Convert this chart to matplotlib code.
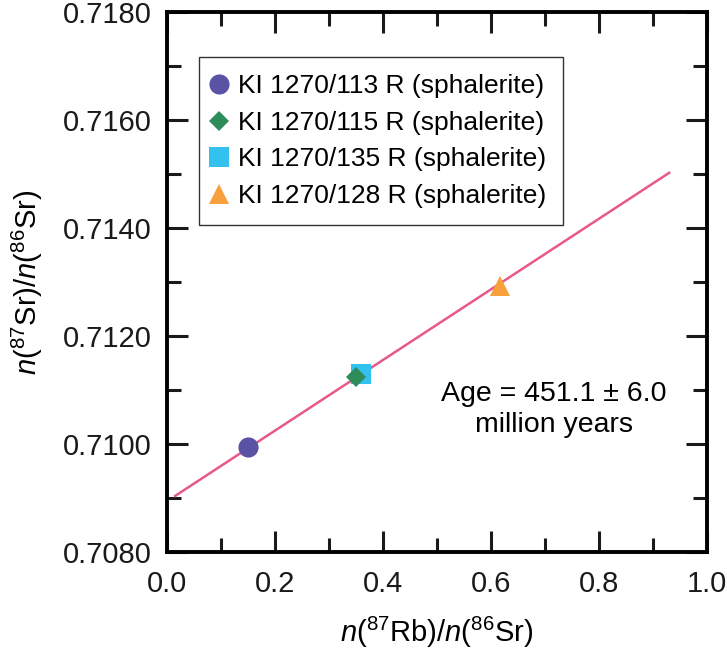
import numpy as np
import matplotlib
matplotlib.use('Agg')
import matplotlib.pyplot as plt
from matplotlib.ticker import MultipleLocator, FormatStrFormatter

plt.rcParams['font.family'] = ['Liberation Sans', 'DejaVu Sans']
plt.rcParams['mathtext.fontset'] = 'custom'
plt.rcParams['mathtext.rm'] = 'Liberation Sans'
plt.rcParams['mathtext.it'] = 'Liberation Sans:italic'

# samples (Rb/Sr vs Sr/Sr)
labels = ['KI 1270/113 R (sphalerite)', 'KI 1270/115 R (sphalerite)',
          'KI 1270/135 R (sphalerite)', 'KI 1270/128 R (sphalerite)']
rb_sr = [0.150, 0.350, 0.359, 0.617]
sr_sr = [0.70994, 0.71124, 0.71130, 0.71293]
markers = ['o', 'D', 's', '^']
colors = ['#5a52a5', '#2e8b5a', '#33c1ef', '#f7a03c']
msizes = [14.5, 10.5, 14, 14]
zord = [3, 5, 4, 3]  # diamond sits on top of the square

# isochron fit
x_fit = [0.015, 0.93]
slope = 0.00654
intercept = 0.70894

fig = plt.figure(figsize=(7.27, 6.55), dpi=100)
ax = fig.add_axes([167/727, 1 - 552/655, 540/727, 540/655])

xf = np.array(x_fit)
ax.plot(xf, intercept + slope * xf, color='#e8588a', lw=1.8, zorder=2)

for x, y, m, c, s, z, lab in zip(rb_sr, sr_sr, markers, colors, msizes, zord, labels):
    ax.plot([x], [y], marker=m, color=c, markersize=s, linestyle='none',
            markeredgewidth=0, label=lab, zorder=z)

ax.set_xlim(0, 1.0)
ax.set_ylim(0.708, 0.718)
ax.xaxis.set_major_locator(MultipleLocator(0.2))
ax.xaxis.set_minor_locator(MultipleLocator(0.1))
ax.yaxis.set_major_locator(MultipleLocator(0.002))
ax.yaxis.set_minor_locator(MultipleLocator(0.001))
ax.xaxis.set_major_formatter(FormatStrFormatter('%.1f'))
ax.yaxis.set_major_formatter(FormatStrFormatter('%.4f'))
ax.tick_params(which='both', direction='in', top=True, right=True,
               labelsize=21, width=2.2, colors='#1a1a1a')
ax.tick_params(axis='x', which='both', pad=13)
ax.tick_params(axis='y', which='both', pad=11)
ax.tick_params(which='major', length=15)
ax.tick_params(which='minor', length=10)
for sp in ax.spines.values():
    sp.set_linewidth(2.8)

ax.set_xlabel(r'$\mathit{n}(^{87}\mathrm{Rb})/\mathit{n}(^{86}\mathrm{Sr})$',
              fontsize=21, labelpad=12)
ax.set_ylabel(r'$\mathit{n}(^{87}\mathrm{Sr})/\mathit{n}(^{86}\mathrm{Sr})$',
              fontsize=21, labelpad=13)

ax.text(0.717, 0.71063, 'Age = 451.1 \u00b1 6.0\nmillion years', fontsize=20.5,
        ha='center', va='center', linespacing=1.25)

leg = ax.legend(loc='upper left', bbox_to_anchor=(0.059, 0.9167), fontsize=19,
                frameon=True, fancybox=False, edgecolor='black',
                handletextpad=0.57, handlelength=0.25, labelspacing=0.48,
                borderpad=0.65, borderaxespad=0)
leg.get_frame().set_linewidth(1.0)

fig.savefig('out.png', dpi=100)
